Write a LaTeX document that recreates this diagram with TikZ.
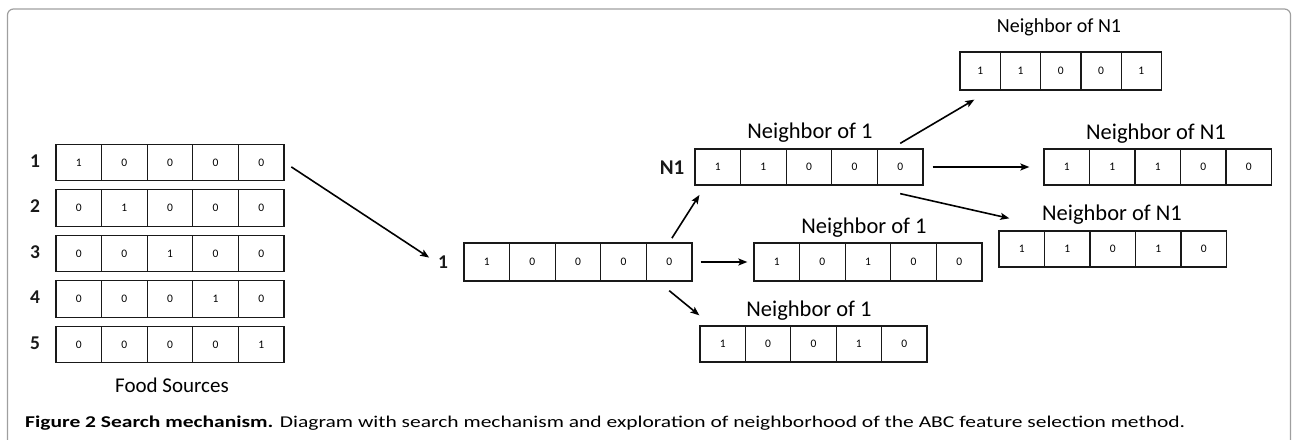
\documentclass[tikz,border=0pt]{standalone}
\usepackage{fontspec}
\setmainfont{Carlito}
\usetikzlibrary{arrows.meta}
\newcommand{\cellrow}[6]{% name, xleft, ycenter, cell width, cell height, digits
  \foreach \d [count=\i] in {#6}{%
    \node[cell, minimum width=#4pt, minimum height=#5pt] (#1-\i) at ({#2+(\i-0.5)*#4},#3) {\d};
  }%
}
\begin{document}
\begin{tikzpicture}[x=1pt,y=-1pt,
  cell/.style={draw=black!90, line width=1.3pt, inner sep=0pt, font=\fontsize{11.5}{12}\selectfont, text=black},
  rowlab/.style={font=\fontsize{19.5}{20}\selectfont\bfseries, text=black!90, inner sep=2pt},
  nbtext/.style={font=\fontsize{22.5}{23}\selectfont, text=black, inner sep=0pt},
  arr/.style={draw=black, line width=1.6pt, -{Stealth[length=9pt,width=7pt,inset=2pt]}},
  frame/.style={draw=gray!75, line width=1.2pt, rounded corners=6pt}]
\useasboundingbox (0,0) rectangle (1292,439);
\draw[frame] (7.5,440) -- (7.5,9) -- (1290.5,9) -- (1290.5,440);

% food sources
\cellrow{fsa}{56}{162.5}{45.6}{36.5}{1,0,0,0,0}
\cellrow{fsb}{56}{208}{45.6}{36.5}{0,1,0,0,0}
\cellrow{fsc}{56}{253.5}{45.6}{36.5}{0,0,1,0,0}
\cellrow{fsd}{56}{299}{45.6}{36.5}{0,0,0,1,0}
\cellrow{fse}{56}{344.5}{45.6}{36.5}{0,0,0,0,1}
\node[rowlab] (la) at (35,161) {1};
\node[rowlab] (lb) at (35,206.5) {2};
\node[rowlab] (lc) at (35,252) {3};
\node[rowlab] (ld) at (35,297.5) {4};
\node[rowlab] (le) at (35,343) {5};
\node[nbtext, font=\fontsize{21}{22}\selectfont] (fstext) at (172,385) {Food Sources};

% selected source 1
\cellrow{bone}{464}{262}{45.6}{38}{1,0,0,0,0}
\node[rowlab] (lbone) at (443,262) {1};

% neighbour N1
\cellrow{none}{695}{167}{45.6}{36}{1,1,0,0,0}
\node[rowlab, font=\fontsize{21}{22}\selectfont\bfseries] (lnone) at (672,168) {N1};
\node[nbtext] (tnone) at (810,133) {Neighbor of 1};

% neighbour of 1 (middle)
\cellrow{mone}{754}{262}{45.6}{38}{1,0,1,0,0}
\node[nbtext] (tmone) at (864,228) {Neighbor of 1};

% neighbour of 1 (lower)
\cellrow{lone}{700}{344}{45.4}{36}{1,0,0,1,0}
\node[nbtext] (tlone) at (809,311) {Neighbor of 1};

% neighbours of N1
\cellrow{ttwo}{960}{71}{40.3}{38}{1,1,0,0,1}
\node[nbtext, font=\fontsize{20}{21}\selectfont] (tttwo) at (1059,27) {Neighbor of N1};
\cellrow{mtwo}{1044}{167}{45.5}{36}{1,1,1,0,0}
\node[nbtext] (tmtwo) at (1156,134) {Neighbor of N1};
\cellrow{ltwo}{999}{249}{45.5}{36}{1,1,0,1,0}
\node[nbtext] (tltwo) at (1112,215) {Neighbor of N1};

% arrows
\draw[arr, shorten <=8pt, shorten >=8pt] (fsa-5.east) -- (lbone.west);
\draw[arr, shorten <=5pt, shorten >=11pt] (bone-5.north) -- ([xshift=11pt]none-1.south west);
\draw[arr, shorten <=8pt, shorten >=6pt] (bone-5.east) -- (mone-1.west);
\draw[arr] ([yshift=-9pt]bone-5.south) -- ([yshift=10pt]lone-1.north west);
\draw[arr] ([yshift=5pt]none-5.north) -- ([xshift=15pt,yshift=-9pt]ttwo-1.south west);
\draw[arr, shorten <=9pt, shorten >=14pt] (none-5.east) -- (mtwo-1.west);
\draw[arr] ([yshift=-8pt]none-5.south) -- ([xshift=11pt,yshift=12pt]ltwo-1.north west);

% caption
\node[anchor=base west, inner sep=0pt] (cap) at (25,427) {\resizebox{1160pt}{\height}{\fontsize{16.5}{17}\selectfont\textbf{Figure 2 Search mechanism.} Diagram with search mechanism and exploration of neighborhood of the ABC feature selection method.}};
\end{tikzpicture}
\end{document}
